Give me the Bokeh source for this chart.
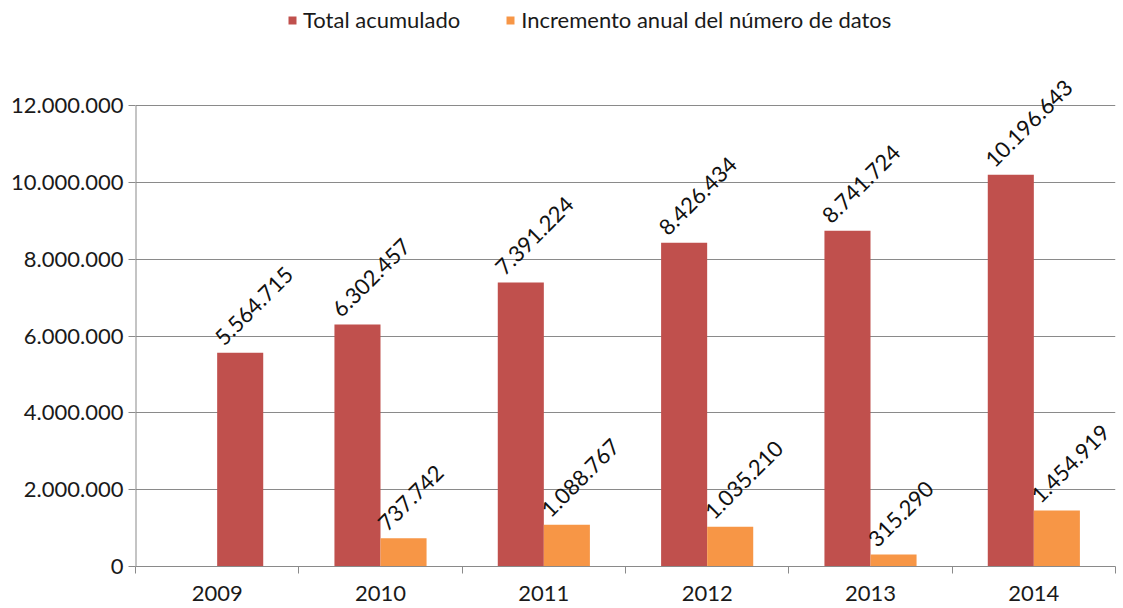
from bokeh.plotting import figure
from bokeh.models import ColumnDataSource, Range1d, FixedTicker, LabelSet, Legend, LegendItem
from bokeh.core.properties import value
from bokeh.embed import file_html
from bokeh.resources import INLINE

# ---- data ----
years = ["2009", "2010", "2011", "2012", "2013", "2014"]
total_acumulado = [5564715, 6302457, 7391224, 8426434, 8741724, 10196643]
incremento_anual = [None, 737742, 1088767, 1035210, 315290, 1454919]
series_names = ["Total acumulado", "Incremento anual del número de datos"]
y_ticks = [0, 2000000, 4000000, 6000000, 8000000, 10000000, 12000000]
y_tick_labels = ["0", "2.000.000", "4.000.000", "6.000.000", "8.000.000", "10.000.000", "12.000.000"]

# ---- styles / layout ----
RED = "#C0504D"
ORANGE = "#F79646"
GRID = "#8a8a8a"
TXT = "#1a1a1a"
FONT = "Lato"
FS = "22px"
BAR_W = 0.282
FRAME_TOP_PX = 0          # frame reaches the figure top so labels/legend are not clipped
TICK_TOP_PX = 105         # where the highest tick should sit
FRAME_BOTTOM_PX = 566
W, H = 1120, 604


def fmt(v):
    return f"{v:,}".replace(",", ".")


# bar positions: category centres at i + 0.5, series side by side
red_x, org_x, org_top = [], [], []
for i, (t, inc) in enumerate(zip(total_acumulado, incremento_anual)):
    c = i + 0.5
    if inc is None:
        red_x.append(c + BAR_W / 2)
    else:
        red_x.append(c - BAR_W / 2)
        org_x.append(c + BAR_W / 2)
        org_top.append(inc)

src_red = ColumnDataSource(dict(x=red_x, top=total_acumulado,
                                label=[fmt(v) for v in total_acumulado]))
src_org = ColumnDataSource(dict(x=org_x, top=org_top,
                                label=[fmt(v) for v in org_top]))

frame_h = FRAME_BOTTOM_PX - FRAME_TOP_PX
y_end = y_ticks[-1] * frame_h / (FRAME_BOTTOM_PX - TICK_TOP_PX)

p = figure(width=W, height=H,
           x_range=Range1d(0, len(years)), y_range=Range1d(0, y_end),
           output_backend="svg", toolbar_location=None,
           min_border_left=135, min_border_right=W - 1115,
           min_border_top=FRAME_TOP_PX, min_border_bottom=H - FRAME_BOTTOM_PX)
p.outline_line_color = None
p.background_fill_color = "white"
p.border_fill_color = "white"

r_red = p.vbar(x="x", top="top", bottom=0, width=BAR_W, source=src_red,
               fill_color=RED, line_color=None)
r_org = p.vbar(x="x", top="top", bottom=0, width=BAR_W, source=src_org,
               fill_color=ORANGE, line_color=None)

# grid
p.xgrid.visible = False
p.ygrid.grid_line_color = GRID
p.ygrid.grid_line_width = 1

# y axis (line drawn only up to the top tick)
p.yaxis.ticker = FixedTicker(ticks=y_ticks, minor_ticks=[])
p.yaxis.major_label_overrides = {t: l for t, l in zip(y_ticks, y_tick_labels)}
p.yaxis.major_tick_in = 0
p.yaxis.major_tick_out = 7
p.yaxis.major_tick_line_color = GRID
p.yaxis.axis_line_color = None
p.yaxis.minor_tick_line_color = None
p.yaxis.major_label_text_font = FONT
p.yaxis.major_label_text_font_size = FS
p.yaxis.major_label_text_color = TXT
p.yaxis.major_label_standoff = 5
p.segment(x0=[0], y0=[0], x1=[0], y1=[y_ticks[-1]], line_color=GRID, line_width=2)

# x axis: labels at centres, tick marks at category boundaries
centres = [i + 0.5 for i in range(len(years))]
bounds = list(range(len(years) + 1))
p.xaxis.ticker = FixedTicker(ticks=centres, minor_ticks=bounds)
p.xaxis.major_label_overrides = {c: y for c, y in zip(centres, years)}
p.xaxis.major_tick_line_color = None
p.xaxis.minor_tick_in = 0
p.xaxis.minor_tick_out = 7
p.xaxis.minor_tick_line_color = GRID
p.xaxis.axis_line_color = GRID
p.xaxis.major_label_text_font = FONT
p.xaxis.major_label_text_font_size = FS
p.xaxis.major_label_text_color = TXT
p.xaxis.major_label_standoff = 12

# data labels
for src in (src_red, src_org):
    p.add_layout(LabelSet(x="x", y="top", text="label", source=src,
                          angle=45, angle_units="deg",
                          x_offset=-16, y_offset=6,
                          text_font=value(FONT), text_font_size=FS,
                          text_color="#111111",
                          text_align="left", text_baseline="alphabetic"))

legend = Legend(items=[LegendItem(label=series_names[0], renderers=[r_red]),
                       LegendItem(label=series_names[1], renderers=[r_org])],
                orientation="horizontal", location=(152, frame_h - 33),
                padding=0, margin=0, spacing=45,
                glyph_width=10, glyph_height=10, label_standoff=6,
                border_line_color=None, background_fill_alpha=0,
                label_text_font=FONT, label_text_font_size=FS,
                label_text_color=TXT)
p.add_layout(legend)

open("out.html", "w").write(file_html(p, INLINE))
